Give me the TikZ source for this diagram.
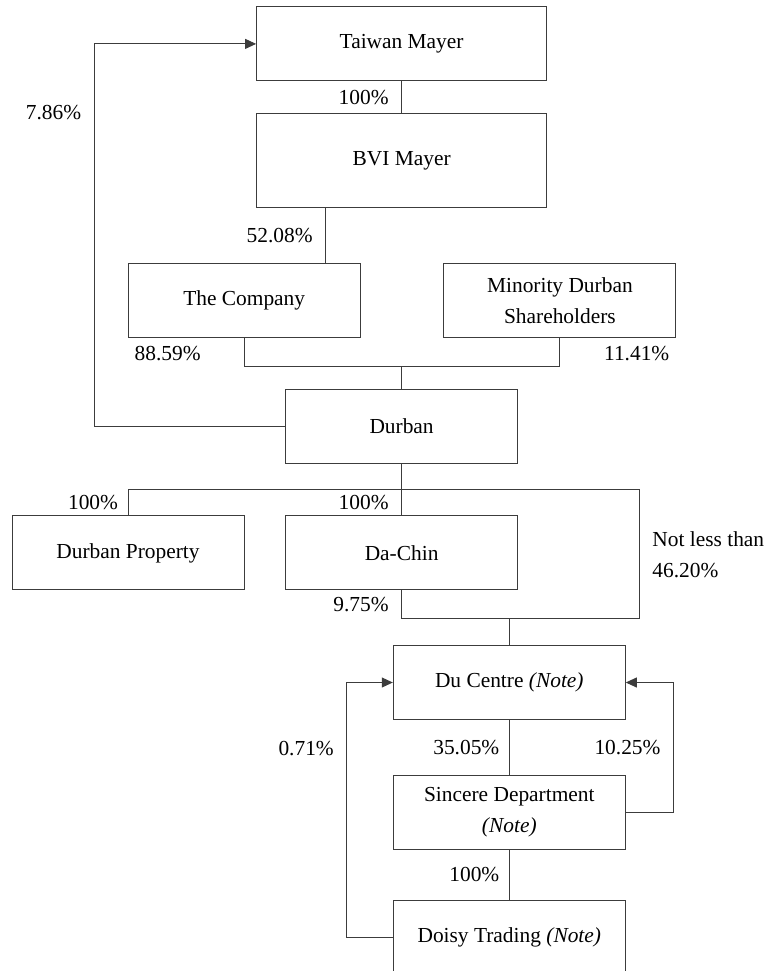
\documentclass[tikz,border=0pt]{standalone}
\usepackage{fontspec}
\setmainfont{Liberation Serif}
\usetikzlibrary{positioning,arrows.meta}
\definecolor{linegray}{HTML}{3C3C3C}
\tikzset{
  entity/.style={draw=linegray,line width=1pt,minimum width=232pt,minimum height=74pt,inner sep=0pt,align=center},
  link/.style={draw=linegray,line width=1pt},
  pct/.style={inner xsep=12.5pt,inner ysep=0pt},
}

\begin{document}
\begin{tikzpicture}[x=1pt,y=-1pt,on grid,>={Triangle[length=11pt,width=10pt]},
    font=\fontsize{21.4}{31}\selectfont]
  \useasboundingbox (0,0) rectangle (770,971);
  \node[entity,minimum width=290pt] (taiwan) at (401.6,43.9) {Taiwan Mayer};
  \node[entity,minimum width=290pt,minimum height=94pt] (bvi) [below=117pt of taiwan] {BVI Mayer};
  \node[entity] (company) [below left=139.6pt and 157.4pt of bvi] {The Company};
  \node[entity] (minority) [below right=139.6pt and 158.3pt of bvi] {Minority Durban\\Shareholders};
  \node[entity] (durban) [below=265.4pt of bvi] {Durban};
  \node[entity] (dachin) [below=126.6pt of durban] {Da-Chin};
  \node[entity] (durbanprop) [left=273.6pt of dachin] {Durban Property};
  \node[entity] (ducentre) [below right=129.6pt and 107.7pt of dachin] {Du Centre \textit{(Note)}};
  \node[entity] (sincere) [below=130pt of ducentre] {Sincere Department\\\textit{(Note)}};
  \node[entity] (doisy) [below=124.5pt of sincere] {Doisy Trading \textit{(Note)}};
  \node[pct] (pcompany) at ([shift={(40,16)}]company.south west) {88.59\%};
  \node[pct] (pminority) at ([shift={(-39.7,16)}]minority.south east) {11.41\%};

  % holdings above Durban
  \coordinate (ctop) at ([xshift=-35pt]company.north east);
  \draw[link] (taiwan) -- node[pct,left] {100\%} (bvi);
  \draw[link] (ctop |- bvi.south) -- node[pct,left] {52.08\%} (ctop);
  \draw[link] (company.south) -- ++(0,28) coordinate (cj) -| (minority.south);
  \draw[link] (cj -| durban.north) -- (durban.north);
  \draw[link,->] (durban.west) -- ++(-191,0) |- node[pct,left,pos=.41] {7.86\%} (taiwan.west);

  % Durban subsidiaries
  \draw[link] (durban.south) -- ++(0,26) coordinate (dj);
  \draw[link] (dj) -| node[pct,left,pos=.75,inner xsep=9.5pt] {100\%} (durbanprop.north);
  \draw[link] (dj) -- node[pct,left] {100\%} (dachin.north);
  \draw[link] (dj) -| node[pct,right,pos=.75,align=left] {Not less than\\46.20\%} ++(237.8,129) coordinate (dk)
    -| node[pct,left,pos=.75] {9.75\%} (dachin.south);
  \draw[link] (dk -| ducentre.north) -- (ducentre.north);

  % Du Centre group
  \draw[link] (ducentre) -- node[pct,left,inner xsep=9.5pt] {35.05\%} (sincere);
  \draw[link] (sincere) -- node[pct,left,inner xsep=9.5pt] {100\%} (doisy);
  \draw[link,->] (sincere.east) -- ++(47.7,0) |- node[pct,left,pos=.25] {10.25\%} (ducentre.east);
  \draw[link,->] (doisy.west) -- ++(-46,0) |- node[pct,left,pos=.37] {0.71\%} (ducentre.west);
\end{tikzpicture}
\end{document}
